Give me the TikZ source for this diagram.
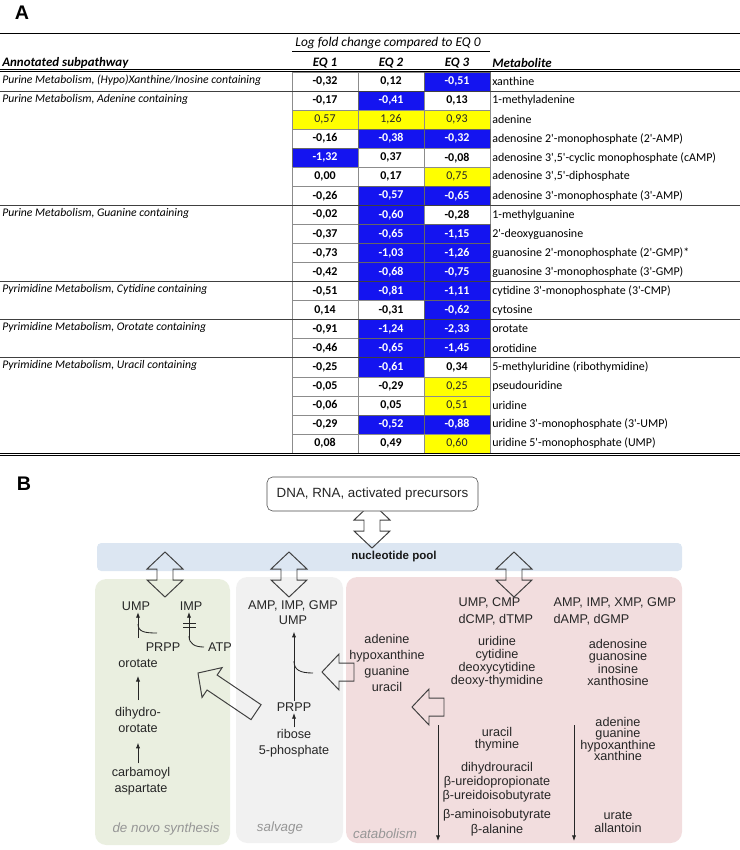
\documentclass[tikz,border=0pt]{standalone}
\usepackage{fontspec}
\setmainfont{Liberation Sans}
\newfontfamily\tabfont{Carlito}
\usetikzlibrary{arrows.meta}
\definecolor{tblue}{RGB}{20,20,240}
\definecolor{tyellow}{RGB}{255,255,0}
\definecolor{poolblue}{RGB}{220,230,242}
\definecolor{novogreen}{RGB}{234,239,224}
\definecolor{salvgrey}{RGB}{241,241,241}
\definecolor{catpink}{RGB}{242,221,222}
\definecolor{notegrey}{RGB}{150,150,150}
\def\tight#1#2{\fontsize{#1}{#2}\selectfont\lineskiplimit=-5pt}
\tikzset{
  numcell/.style={minimum width=1.65cm, minimum height=0.476cm, inner sep=0pt},
  wcell/.style={numcell, draw=black!45, fill=white, text=black, font=\tabfont\fontsize{8.5}{10}\selectfont\bfseries},
  bcell/.style={numcell, draw=black!60, fill=tblue, text=white, font=\tabfont\fontsize{8.5}{10}\selectfont\bfseries},
  ycell/.style={numcell, draw=black!45, fill=tyellow, text=black!85, font=\tabfont\fontsize{8.5}{10}\selectfont},
  metab/.style={anchor=west, inner sep=0pt, font=\tabfont\fontsize{8.5}{10}\selectfont},
  grp/.style={anchor=west, inner sep=0pt, font=\tabfont\itshape\fontsize{8.3}{10}\selectfont},
  hdr/.style={inner sep=0pt, font=\tabfont\bfseries\itshape\fontsize{9.2}{11}\selectfont},
  panel/.style={inner sep=0pt, font=\bfseries\fontsize{14}{16}\selectfont},
  lbl/.style={font=\tight{9}{11.3}, text=black!85, align=center, inner sep=1pt},
  note/.style={font=\itshape\fontsize{9.5}{11}\selectfont, text=notegrey},
  flow/.style={-{Latex[length=4pt,width=3pt]}, line width=0.6pt, black!85},
  link/.style={line width=0.6pt, black!85},
  hollow/.style={draw=black!75, line width=0.7pt, line join=miter}
}
% one table row: row, three values with their kinds (w/b/y), metabolite
\def\tabrow#1#2#3#4#5#6#7#8{%
  \node[#3cell] (c#1a) at (325,{72+(#1-0.5)*19.05}) {#2};
  \node[#5cell] (c#1b) at (391,{72+(#1-0.5)*19.05}) {#4};
  \node[#7cell] (c#1c) at (457,{72+(#1-0.5)*19.05}) {#6};
  \node[metab] (m#1) at (492,{72+(#1-0.5)*19.05}) {#8};}
% hollow double arrow: top tip, length
\def\dblarrow(#1)(#2){\draw[hollow, shift={(#1)}] (0,0) -- (18,17) -- (8,17) -- (8,{#2-17}) -- (18,{#2-17}) -- (0,#2) -- (-18,{#2-17}) -- (-8,{#2-17}) -- (-8,17) -- (-18,17) -- cycle;}
% hollow fat arrow: tip, angle, length
\def\fatarrow(#1)(#2:#3){\draw[hollow, shift={(#1)}, rotate=#2] (0,0) -- (-17,18) -- (-17,9) -- (-#3,9) -- (-#3,-9) -- (-17,-9) -- (-17,-18) -- cycle;}

\begin{document}
\begin{tikzpicture}[x=0.025cm, y=-0.025cm]
  \useasboundingbox (0,0) rectangle (740,850);
  %%%%% PANEL A %%%%%
  \node[panel] (labA) at (22,13) {A};
  \draw (0,33) -- (740,33);
  \node[inner sep=0pt, font=\tabfont\itshape\fontsize{9.5}{11}\selectfont] (hlog) at (388,43) {Log fold change compared to EQ 0};
  \draw (292,51) -- (490,51);
  \node[hdr, anchor=west] (hsub) at (2,63) {Annotated subpathway};
  \node[hdr] (heq1) at (325,63) {EQ 1};
  \node[hdr] (heq2) at (391,63) {EQ 2};
  \node[hdr] (heq3) at (457,63) {EQ 3};
  \node[hdr, anchor=west] (hmet) at (492,63) {Metabolite};
  \draw (0,69) -- (740,69);
  \draw (0,71.5) -- (740,71.5);

  \tabrow{1}{-0,32}{w}{0,12}{w}{-0,51}{b}{xanthine}
  \tabrow{2}{-0,17}{w}{-0,41}{b}{0,13}{w}{1-methyladenine}
  \tabrow{3}{0,57}{y}{1,26}{y}{0,93}{y}{adenine}
  \tabrow{4}{-0,16}{w}{-0,38}{b}{-0,32}{b}{adenosine 2'-monophosphate (2'-AMP)}
  \tabrow{5}{-1,32}{b}{0,37}{w}{-0,08}{w}{adenosine 3',5'-cyclic monophosphate (cAMP)}
  \tabrow{6}{0,00}{w}{0,17}{w}{0,75}{y}{adenosine 3',5'-diphosphate}
  \tabrow{7}{-0,26}{w}{-0,57}{b}{-0,65}{b}{adenosine 3'-monophosphate (3'-AMP)}
  \tabrow{8}{-0,02}{w}{-0,60}{b}{-0,28}{w}{1-methylguanine}
  \tabrow{9}{-0,37}{w}{-0,65}{b}{-1,15}{b}{2'-deoxyguanosine}
  \tabrow{10}{-0,73}{w}{-1,03}{b}{-1,26}{b}{guanosine 2'-monophosphate (2'-GMP)*}
  \tabrow{11}{-0,42}{w}{-0,68}{b}{-0,75}{b}{guanosine 3'-monophosphate (3'-GMP)}
  \tabrow{12}{-0,51}{w}{-0,81}{b}{-1,11}{b}{cytidine 3'-monophosphate (3'-CMP)}
  \tabrow{13}{0,14}{w}{-0,31}{w}{-0,62}{b}{cytosine}
  \tabrow{14}{-0,91}{w}{-1,24}{b}{-2,33}{b}{orotate}
  \tabrow{15}{-0,46}{w}{-0,65}{b}{-1,45}{b}{orotidine}
  \tabrow{16}{-0,25}{w}{-0,61}{b}{0,34}{w}{5-methyluridine (ribothymidine)}
  \tabrow{17}{-0,05}{w}{-0,29}{w}{0,25}{y}{pseudouridine}
  \tabrow{18}{-0,06}{w}{0,05}{w}{0,51}{y}{uridine}
  \tabrow{19}{-0,29}{w}{-0,52}{b}{-0,88}{b}{uridine 3'-monophosphate (3'-UMP)}
  \tabrow{20}{0,08}{w}{0,49}{w}{0,60}{y}{uridine 5'-monophosphate (UMP)}

  \node[grp] (g1) at (2,80) {Purine Metabolism, (Hypo)Xanthine/Inosine containing};
  \node[grp] (g2) at (2,99) {Purine Metabolism, Adenine containing};
  \node[grp] (g3) at (2,213.5) {Purine Metabolism, Guanine containing};
  \node[grp] (g4) at (2,289.5) {Pyrimidine Metabolism, Cytidine containing};
  \node[grp] (g5) at (2,327.5) {Pyrimidine Metabolism, Orotate containing};
  \node[grp] (g6) at (2,365.5) {Pyrimidine Metabolism, Uracil containing};
  \foreach \gy in {91.05,205.35,281.55,319.65,357.75}
    \draw[black!75] (0,\gy) -- (740,\gy);
  \draw (0,452.8) -- (740,452.8);
  \draw (0,455) -- (740,455);

  %%%%% PANEL B %%%%%
  \node[panel] (labB) at (24,484) {B};
  \fill[novogreen, rounded corners=8pt] (95,579) rectangle (230,845);
  \fill[salvgrey, rounded corners=8pt] (236,577) rectangle (343,843);
  \fill[catpink, rounded corners=8pt] (346,577) rectangle (682,843);
  \fill[poolblue, rounded corners=3pt] (97,543) rectangle (682,571);
  \node[font=\bfseries\fontsize{8.2}{10}\selectfont, text=black!90] (pool) at (394,557) {nucleotide pool};

  \dblarrow(372,503)(45)
  \node[draw=black!70, fill=white, rounded corners=4pt, minimum width=5.275cm, minimum height=0.85cm, font=\fontsize{9.5}{11}\selectfont, text=black!85] (dna) at (372.5,494) {DNA, RNA, activated precursors};
  \dblarrow(165,552)(45)
  \dblarrow(289,552)(45)
  \dblarrow(514,552)(45)

  % de novo synthesis
  \node[lbl] (ump) at (136,606) {UMP};
  \node[lbl] (imp) at (191,606) {IMP};
  \node[lbl] (prppnovo) at (163,647) {PRPP};
  \node[lbl] (atp) at (220,647) {ATP};
  \node[lbl] (orotate) at (138,663) {orotate};
  \node[lbl] (dihydro) at (138,720) {dihydro-\\orotate};
  \node[lbl] (carbamoyl) at (141,781) {carbamoyl\\aspartate};
  \node[note] (novolabel) at (166,829) {de novo synthesis};
  \coordinate (umpfoot) at (138,638);
  \draw[flow] (umpfoot) -- (umpfoot |- ump.south);
  \draw[link] (138,624) .. controls (138,632) and (145,633) .. (157,633);
  \coordinate (impfoot) at (189,640);
  \draw[flow] (impfoot) -- (impfoot |- imp.south);
  \draw[link] (183,623) -- (196,623) (183,627) -- (196,627);
  \draw[link] (189,636) .. controls (189,644) and (195,647) .. (204,647);
  \draw[flow, shorten <=4pt, shorten >=5pt] (dihydro.north) -- (orotate.south);
  \draw[flow, shorten <=1.5pt, shorten >=6pt] (carbamoyl.north -| dihydro.south) -- (dihydro.south);

  % salvage
  \node[lbl, font=\tight{9}{10.6}] (salvnmp) at (293,612.5) {AMP, IMP, GMP\\UMP};
  \node[lbl] (prppsalv) at (294,707) {PRPP};
  \node[lbl] (ribose) at (294,743) {ribose\\5-phosphate};
  \node[note] (salvlabel) at (280,828) {salvage};
  \draw[flow, shorten >=4pt] (prppsalv.north) -- (prppsalv.north |- salvnmp.south);
  \draw[link] (294,661) .. controls (294,670) and (300,673) .. (313,673);
  \draw[flow] (ribose.north) -- (prppsalv.south);
  \fatarrow(198,673)(146:70)
  \fatarrow(322,672)(180:32)

  % catabolism
  \node[lbl] (nucbases) at (387,663) {adenine\\hypoxanthine\\guanine\\uracil};
  \node[lbl, anchor=west, align=left, font=\tight{9}{12}] (pyrnmp) at (457,611.5) {UMP, CMP\\dCMP, dTMP};
  \node[lbl, anchor=west, align=left, font=\tight{9}{12}] (purnmp) at (552,611.5) {AMP, IMP, XMP, GMP\\dAMP, dGMP};
  \node[lbl, font=\tight{9}{9.2}] (pyrnuc) at (497,662) {uridine\\cytidine\\deoxycytidine\\deoxy-thymidine};
  \node[lbl, font=\tight{9}{8.8}] (purnuc) at (618,662.5) {adenosine\\guanosine\\inosine\\xanthosine};
  \node[lbl, font=\tight{9}{8.5}] (pyrbase) at (497,739) {uracil\\thymine};
  \node[lbl, font=\tight{9}{9.9}] (pyrint) at (497,782) {dihydrouracil\\β-ureidopropionate\\β-ureidoisobutyrate};
  \node[lbl, font=\tight{9}{10.6}] (pyrend) at (497,822.5) {β-aminoisobutyrate\\β-alanine};
  \node[lbl, font=\tight{9}{8}] (purbase) at (618,739) {adenine\\guanine\\hypoxanthine\\xanthine};
  \node[lbl, font=\tight{9}{9.2}] (purend) at (618,821.5) {urate\\allantoin};
  \node[note] (catlabel) at (385,834) {catabolism};
  \fatarrow(412,707)(180:32)
  \coordinate (pyrstart) at (438,725);
  \coordinate (pyrstop) at (438,841);
  \draw[flow] (pyrstart) -- (pyrstop);
  \coordinate (purstart) at (574,725);
  \coordinate (purstop) at (574,841);
  \draw[flow] (purstart) -- (purstop);
\end{tikzpicture}
\end{document}
